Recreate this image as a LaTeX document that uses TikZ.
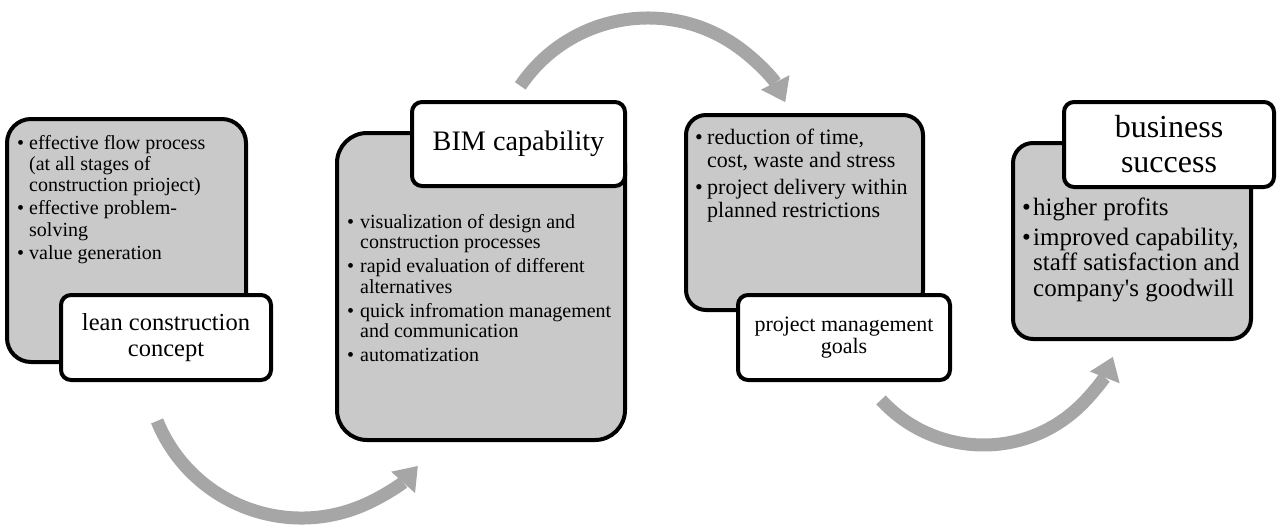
\documentclass[tikz,border=0pt]{standalone}
\usepackage{fontspec}
\setmainfont{Liberation Serif}
\usetikzlibrary{arrows.meta}
\definecolor{boxgray}{HTML}{C9C9C9}
\definecolor{arrowgray}{HTML}{A6A6A6}
\newcommand{\bul}[2]{\noindent\hangindent=#1\hangafter=1\makebox[#1][l]{\textbullet}\ignorespaces #2\par}
\tikzset{
  graybox/.style={draw=black, line width=4pt, fill=boxgray, rounded corners=#1, inner sep=0pt},
  graybox/.default=22pt,
  labelbox/.style={draw=black, line width=4pt, fill=white, rounded corners=10pt, align=center, inner sep=0pt},
  flowarrow/.style={draw=arrowgray, line width=13pt, -{Triangle[width=32pt,length=22pt,line width=0pt]}},
  bullettext/.style={anchor=base west, inner sep=0pt}
}
\begin{document}
\begin{tikzpicture}[x=1pt,y=-1pt]
\useasboundingbox (0,0) rectangle (1278,525);
% curved arrows
\coordinate (c1) at (301.5,362);
\coordinate (c2) at (648,172);
\coordinate (c4) at (983.5,306);
\path (c1) ++(157.8:156) coordinate (a1s);
\path (c2) ++(214:154) coordinate (a2s);
\path (c4) ++(137.5:139) coordinate (a4s);
\draw[flowarrow] (a1s) arc[start angle=157.8, end angle=41.8, radius=156];
\draw[flowarrow] (a2s) arc[start angle=214, end angle=333, radius=154];
\draw[flowarrow] (a4s) arc[start angle=137.5, end angle=21.5, radius=139];
% gray boxes
\node[graybox=24pt, minimum width=239pt, minimum height=243pt] (g1) at (126.5,240.5) {};
\node[graybox=30pt, minimum width=288pt, minimum height=307pt] (g2) at (481,286.5) {};
\node[graybox=20pt, minimum width=237pt, minimum height=195pt] (g3) at (804.5,212.5) {};
\node[graybox=20pt, minimum width=238pt, minimum height=196pt] (g4) at (1132,241) {};
% label boxes
\node[labelbox, minimum width=210pt, minimum height=85pt, font=\fontsize{24.5}{25.5}\selectfont] (w1) at (166,337.5) {lean construction\\concept};
\node[labelbox, minimum width=213pt, minimum height=84pt, font=\fontsize{28.2}{30}\selectfont] (w2) at (518.5,144) {BIM capability};
\node[labelbox, minimum width=212pt, minimum height=85pt, font=\fontsize{22}{22.5}\selectfont] (w3) at (844,337.5) {project management\\goals};
\node[labelbox, minimum width=210pt, minimum height=85pt, font=\fontsize{32}{35}\selectfont] (w4) at (1169,144.5) {business\\success};
% bullet texts
\node[bullettext] (t1) at (17,149) {\parbox[t]{228pt}{\fontsize{20}{21.3}\selectfont\setlength{\parskip}{2pt}
\bul{12pt}{effective flow process\newline(at all stages of\newline construction prioject)}
\bul{12pt}{effective problem-\newline solving}
\bul{12pt}{value generation}}};
\node[bullettext] (t2) at (347,228) {\parbox[t]{275pt}{\fontsize{20}{20.5}\selectfont\setlength{\parskip}{3.5pt}
\bul{13pt}{visualization of design and\newline construction processes}
\bul{13pt}{rapid evaluation of different\newline alternatives}
\bul{13pt}{quick infromation management\newline and communication}
\bul{13pt}{automatization}}};
\node[bullettext] (t3) at (695,144) {\parbox[t]{228pt}{\fontsize{22}{23}\selectfont\setlength{\parskip}{4pt}
\bul{12pt}{reduction of time,\newline cost, waste and stress}
\bul{12pt}{project delivery within\newline planned restrictions}}};
\node[bullettext] (t4) at (1022,215) {\parbox[t]{250pt}{\fontsize{25}{25.5}\selectfont\setlength{\parskip}{4.5pt}
\bul{11pt}{higher profits}
\bul{11pt}{improved capability,\newline staff satisfaction and\newline company\textquotesingle s goodwill}}};
\end{tikzpicture}
\end{document}
